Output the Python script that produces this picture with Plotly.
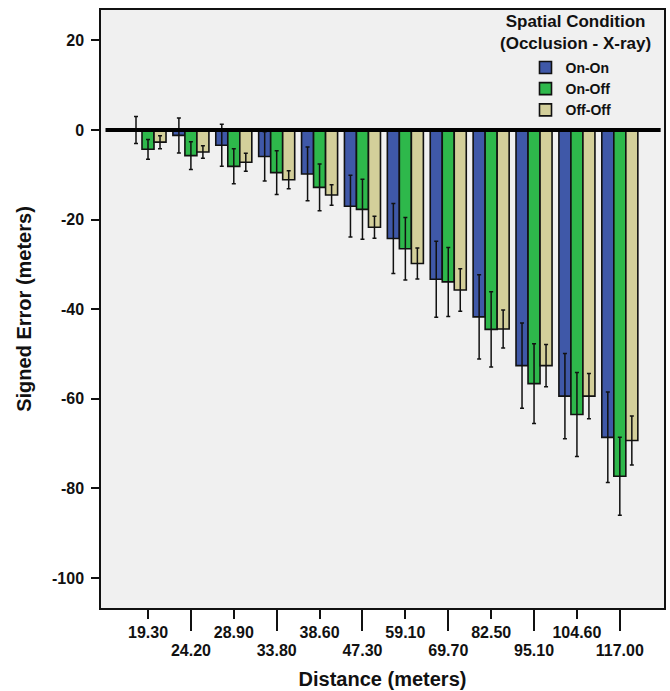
import plotly.graph_objects as go

distances = ["19.30", "24.20", "28.90", "33.80", "38.60", "47.30",
             "59.10", "69.70", "82.50", "95.10", "104.60", "117.00"]

on_on = [0.0, -1.2, -3.4, -5.9, -9.8, -17.0, -24.2, -33.3, -41.7, -52.6, -59.4, -68.6]
on_on_err = [3.0, 3.9, 4.7, 5.5, 6.0, 6.9, 7.8, 8.5, 9.4, 9.5, 9.5, 10.1]

on_off = [-4.3, -5.7, -8.1, -9.5, -12.8, -17.7, -26.5, -33.9, -44.5, -56.6, -63.5, -77.3]
on_off_err = [2.2, 3.1, 3.9, 4.9, 5.2, 6.7, 7.0, 7.7, 8.4, 8.9, 9.4, 8.7]

off_off = [-2.7, -4.9, -7.2, -11.1, -14.5, -21.7, -29.8, -35.7, -44.4, -52.6, -59.4, -69.3]
off_off_err = [1.45, 1.4, 2.0, 2.0, 2.3, 2.45, 3.45, 4.75, 4.25, 4.7, 5.05, 5.45]

series = [
    ("On-On", on_on, on_on_err, "#3F58A8"),
    ("On-Off", on_off, on_off_err, "#2EB84B"),
    ("Off-Off", off_off, off_off_err, "#D3CF9A"),
]

y_ticks = [20, 0, -20, -40, -60, -80, -100]

FONT = "Liberation Sans, Arial, sans-serif"

fig = go.Figure()
for name, vals, errs, color in series:
    fig.add_trace(go.Bar(
        name=name, x=distances, y=vals,
        marker=dict(color=color, line=dict(color="#111111", width=1.6)),
        error_y=dict(type="data", array=errs, visible=True,
                     color="#111111", thickness=1.5, width=2),
    ))

# invisible helper trace so the second (staggered-label) axis shares categories
fig.add_trace(go.Scatter(x=distances, y=on_on, xaxis="x2", mode="none",
                         showlegend=False, hoverinfo="skip"))

even = distances[0::2]
odd = distances[1::2]

fig.update_layout(
    width=670, height=691,
    margin=dict(l=101, r=6, t=10, b=83, autoexpand=False),
    paper_bgcolor="white",
    plot_bgcolor="#F0F0F0",
    barmode="group", bargap=0.16, bargroupgap=0,
    font=dict(family=FONT, color="#111111"),
    showlegend=True,
    legend=dict(x=0.754, y=0.93, xanchor="left", yanchor="top",
                bgcolor="rgba(0,0,0,0)", borderwidth=0,
                font=dict(size=14, family=FONT, weight="bold"),
                tracegroupgap=0),
    xaxis=dict(
        type="category", range=[-1.096, 12.03], automargin=False,
        tickmode="array", tickvals=even, ticktext=even,
        ticks="outside", ticklen=9, tickwidth=2, tickcolor="#111111",
        tickfont=dict(size=16, family=FONT, weight="bold"),
        showline=True, linecolor="#111111", linewidth=1.5, mirror=True,
        showgrid=False, zeroline=False,
    ),
    xaxis2=dict(
        overlaying="x", matches="x", anchor="y", side="bottom",
        type="category", automargin=False,
        tickmode="array", tickvals=odd, ticktext=odd,
        ticks="outside", ticklen=22, tickwidth=2, tickcolor="#111111",
        ticklabelstandoff=6,
        tickfont=dict(size=16, family=FONT, weight="bold"),
        showline=False, showgrid=False, zeroline=False,
        title=dict(text="Distance (meters)", standoff=13,
                   font=dict(size=20, family=FONT, weight="bold")),
    ),
    yaxis=dict(
        range=[-106.7, 26.8], automargin=False,
        tickmode="array", tickvals=y_ticks, ticktext=[str(v) for v in y_ticks],
        ticks="outside", ticklen=8, tickwidth=2, tickcolor="#111111",
        tickfont=dict(size=16, family=FONT, weight="bold"),
        ticklabelstandoff=4,
        showline=True, linecolor="#111111", linewidth=1.5, mirror=True,
        showgrid=False, zeroline=False,
        title=dict(text="Signed Error (meters)", standoff=15,
                   font=dict(size=20, family=FONT, weight="bold")),
    ),
)

# thick reference line at zero
fig.add_shape(type="line", xref="paper", yref="y", x0=0.008, x1=0.994,
              y0=0, y1=0, line=dict(color="black", width=4), layer="above")

# legend title
fig.add_annotation(text="<b>Spatial Condition<br>(Occlusion - X-ray)</b>",
                   xref="paper", yref="paper",
                   x=0.843, y=0.962, showarrow=False, xanchor="center", yanchor="middle",
                   font=dict(size=17, family=FONT, color="#111111"))

fig.write_html("out.html",
               config={"displayModeBar": False},
               post_script="document.body.style.margin='0';document.body.style.overflow='hidden';")
